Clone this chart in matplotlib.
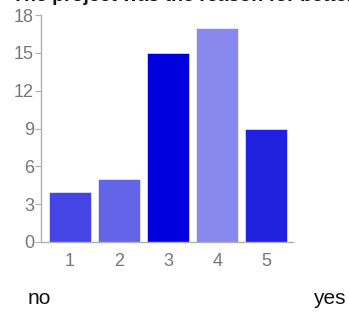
import matplotlib.pyplot as plt

plt.rcParams['font.family'] = ['Liberation Sans', 'DejaVu Sans']

# data
ratings = [1, 2, 3, 4, 5]
counts = [4, 5, 15, 17, 9]
bar_colors = ['#4545e5', '#6464e8', '#0000df', '#8888ee', '#2020df']
y_ticks = [0, 3, 6, 9, 12, 15, 18]

fig = plt.figure(figsize=(3.49, 3.13), dpi=100)
ax = fig.add_axes([41/349, 1-242/313, 252/349, 227/313])

ax.bar(ratings, counts, width=0.855, color=bar_colors, edgecolor='white', linewidth=0.4)
ax.set_xlim(0.41, 5.54)
ax.set_ylim(0, 18)
ax.set_xticks(ratings)
ax.set_yticks(y_ticks)

for s in ['top', 'right']:
    ax.spines[s].set_visible(False)
for s in ['left', 'bottom']:
    ax.spines[s].set_color('#b0b0b0')
    ax.spines[s].set_linewidth(1.0)
ax.tick_params(axis='both', colors='#b0b0b0', labelcolor='#777777', labelsize=13, length=4, pad=1)
ax.tick_params(axis='x', length=0, pad=8)

fig.text(28/349, 1-299/313, 'no', fontsize=15, va='center', ha='left', color='#111111')
fig.text(313/349, 1-299/313, 'yes', fontsize=15, va='center', ha='left', color='#111111')
# title cut off at the top of the image
fig.text(12/349, 1-0.7/313, 'The project was the reason for better', fontsize=14, fontweight='bold',
         va='baseline', ha='left', color='#111111')

fig.savefig('out.png', dpi=100)
